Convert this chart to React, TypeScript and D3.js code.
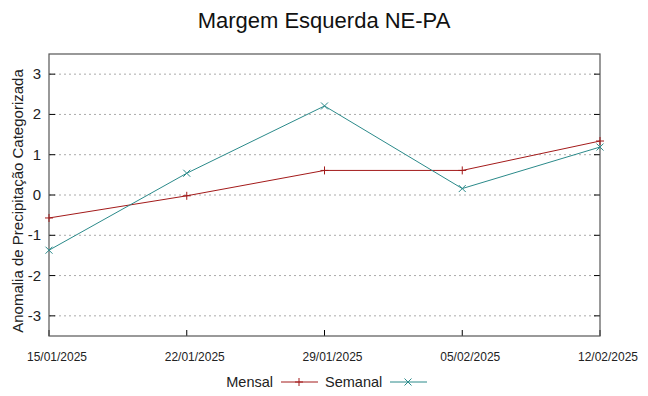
import React from 'react';
import * as d3 from 'd3';

const dates = ['15/01/2025', '22/01/2025', '29/01/2025', '05/02/2025', '12/02/2025'];
const mensal = [-0.57, -0.02, 0.61, 0.61, 1.34];
const semanal = [-1.37, 0.54, 2.21, 0.16, 1.19];
const yTicks = [-3, -2, -1, 0, 1, 2, 3];

const W = 648;
const H = 396;
const left = 49;
const right = 600;
const top = 54;
const bottom = 336;

const RED = '#a31a1a';
const TEAL = '#2b8a8a';

const App: React.FC = () => {
  const parse = d3.timeParse('%d/%m/%Y');
  const times = dates.map(d => parse(d) as Date);

  const x = d3.scaleTime()
    .domain([times[0], times[times.length - 1]])
    .range([left, right]);
  const y = d3.scaleLinear().domain([-3.5, 3.5]).range([bottom, top]);

  const line = d3.line<number>()
    .x((_, i) => x(times[i]))
    .y(v => y(v));

  const font = '"Liberation Sans", Arial, sans-serif';

  const plus = (cx: number, cy: number, color: string, key: string) => (
    <path key={key} d={`M${cx - 4},${cy}H${cx + 4}M${cx},${cy - 4}V${cy + 4}`} stroke={color} strokeWidth={1} />
  );
  const cross = (cx: number, cy: number, color: string, key: string) => (
    <path key={key} d={`M${cx - 3.5},${cy - 3.5}L${cx + 3.5},${cy + 3.5}M${cx - 3.5},${cy + 3.5}L${cx + 3.5},${cy - 3.5}`} stroke={color} strokeWidth={1} />
  );

  return (
    <svg width={W} height={H} style={{ position: 'absolute', left: 0, top: 0, background: '#fff' }} fontFamily={font}>
      <rect width={W} height={H} fill="#fff" />
      <text x={324} y={28} textAnchor="middle" fontSize={22} fill="#111">Margem Esquerda NE-PA</text>

      {/* grid */}
      {yTicks.map(t => (
        <line key={'g' + t} x1={left} x2={right} y1={y(t)} y2={y(t)} stroke="#aaa" strokeWidth={1} strokeDasharray="2,3" />
      ))}

      {/* tick marks */}
      {yTicks.map(t => (
        <g key={'t' + t}>
          <line x1={left} x2={left + 6} y1={y(t)} y2={y(t)} stroke="#000" />
          <line x1={right - 6} x2={right} y1={y(t)} y2={y(t)} stroke="#000" />
          <text x={41} y={y(t) + 5} textAnchor="end" fontSize={15} fill="#222">{t}</text>
        </g>
      ))}
      {times.map((t, i) => (
        <g key={'x' + i}>
          <line x1={x(t)} x2={x(t)} y1={bottom} y2={bottom - 6} stroke="#000" />
          <text x={x(t) + 8} y={361} textAnchor="middle" fontSize={13} textLength={60} lengthAdjust="spacingAndGlyphs" fill="#222">{dates[i]}</text>
        </g>
      ))}

      <rect x={left} y={top} width={right - left} height={bottom - top} fill="none" stroke="#555" strokeWidth={1.2} />

      {/* series */}
      <path d={line(mensal) || ''} fill="none" stroke={RED} strokeWidth={1} />
      {mensal.map((v, i) => plus(x(times[i]), y(v), RED, 'm' + i))}
      <path d={line(semanal) || ''} fill="none" stroke={TEAL} strokeWidth={1} />
      {semanal.map((v, i) => cross(x(times[i]), y(v), TEAL, 's' + i))}

      <text transform={`translate(23,${(top + bottom) / 2 + 6}) rotate(-90)`} textAnchor="middle" fontSize={15} fill="#222">
        Anomalia de Precipitação Categorizada
      </text>

      {/* legend */}
      <text x={273} y={387} textAnchor="end" fontSize={14.5} fill="#222">Mensal</text>
      <line x1={281} x2={318} y1={382} y2={382} stroke={RED} />
      {plus(299, 382, RED, 'lm')}
      <text x={325} y={387} fontSize={14.5} fill="#222">Semanal</text>
      <line x1={390} x2={427} y1={382} y2={382} stroke={TEAL} />
      {cross(408, 382, TEAL, 'ls')}
    </svg>
  );
};

export default App;
